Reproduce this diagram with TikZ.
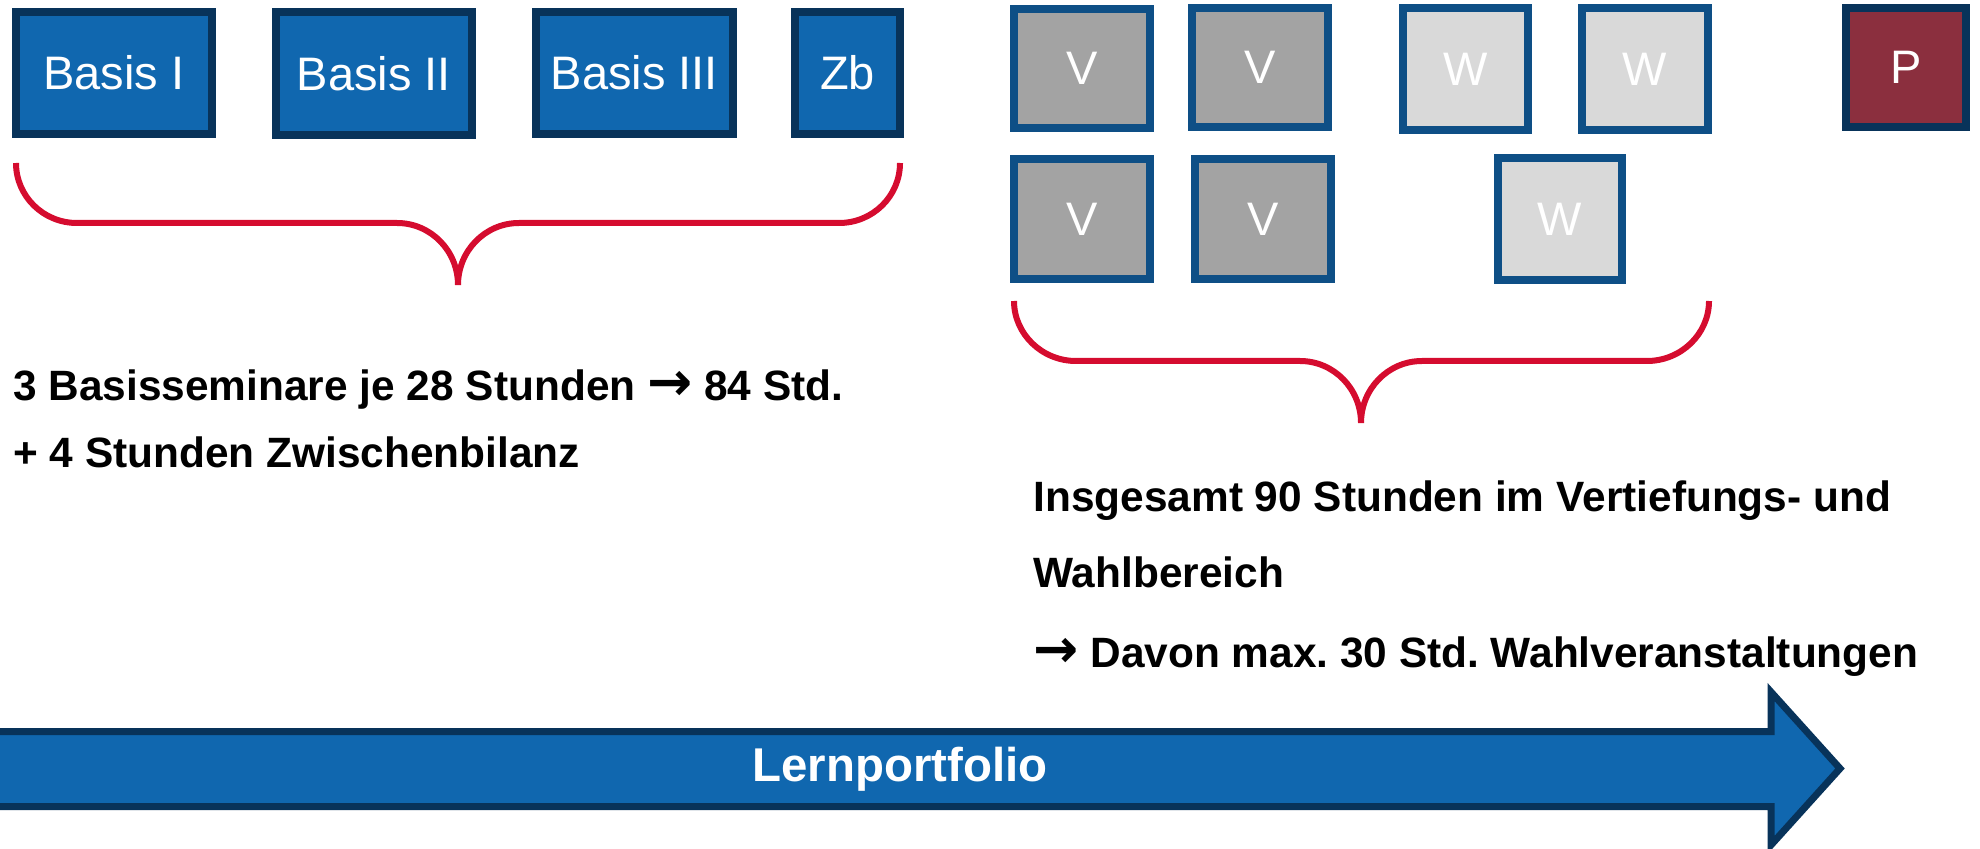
\documentclass[tikz,border=0pt]{standalone}
\usepackage{fontspec}
\setmainfont{Liberation Sans}
\newfontfamily\arrowfont{DejaVu Sans}
\definecolor{boxblue}{RGB}{16,103,175}
\definecolor{darkblue}{RGB}{8,51,90}
\definecolor{midblue}{RGB}{14,79,134}
\definecolor{vgrey}{RGB}{163,163,163}
\definecolor{wgrey}{RGB}{217,217,217}
\definecolor{pred}{RGB}{139,47,62}
\definecolor{bracered}{RGB}{213,12,47}
\tikzset{
  boxbase/.style={draw, line width=4pt, inner sep=0pt, text=white,
    font=\fontsize{23.5}{28}\selectfont},
  basisbox/.style={boxbase, draw=darkblue, fill=boxblue},
  vbox/.style={boxbase, draw=midblue, fill=vgrey},
  wbox/.style={boxbase, draw=midblue, fill=wgrey},
  pbox/.style={boxbase, draw=darkblue, fill=pred},
  bracepath/.style={draw=bracered, line width=3pt},
  infotext/.style={anchor=base west, inner sep=0pt, font=\fontsize{21.2}{25}\selectfont\bfseries\frenchspacing}
}
\newcommand{\rarr}{{\fontsize{27}{25}\arrowfont\bfseries →}}
\begin{document}
\begin{tikzpicture}[x=0.5pt,y=-0.5pt]
\useasboundingbox (0,0) rectangle (1980,849);
\clip (0,0) rectangle (1980,849);
% top-left boxes
\node[basisbox, minimum width=98pt, minimum height=61pt] (b1) at (114,73) {Basis I};
\node[basisbox, minimum width=98pt, minimum height=61.5pt] (b2) at (374,73.5) {Basis II};
\node[basisbox, minimum width=98.5pt, minimum height=61pt] (b3) at (634.5,73) {Basis III};
\node[basisbox, minimum width=52.5pt, minimum height=61pt] (zb) at (847.5,73) {Zb};
% right boxes
\node[vbox, minimum width=68pt, minimum height=59.5pt] (v1) at (1082,68.5) {V};
\node[vbox, minimum width=68pt, minimum height=59.5pt] (v2) at (1260,67.5) {V};
\node[wbox, minimum width=62.5pt, minimum height=61pt] (w1) at (1465.5,69) {W};
\node[wbox, minimum width=63pt, minimum height=61pt] (w2) at (1645,69) {W};
\node[pbox, minimum width=60pt, minimum height=59.5pt] (p) at (1906,67.5) {P};
\node[vbox, minimum width=68pt, minimum height=60pt] (v3) at (1082,219) {V};
\node[vbox, minimum width=68pt, minimum height=60pt] (v4) at (1263,219) {V};
\node[wbox, minimum width=62pt, minimum height=61pt] (w3) at (1560,219) {W};
% brace 1
\draw[bracepath] (16,163) .. controls (16,196) and (43,223) .. (77,223)
  -- (397,223) .. controls (431,223) and (458,251) .. (458,285)
  .. controls (458,251) and (485,223) .. (519,223)
  -- (839,223) .. controls (873,223) and (900,196) .. (900,163);
% brace 2
\draw[bracepath] (1014,301) .. controls (1014,334) and (1042,361) .. (1076,361)
  -- (1300,361) .. controls (1334,361) and (1361,389) .. (1361,423)
  .. controls (1361,389) and (1388,361) .. (1422,361)
  -- (1647,361) .. controls (1681,361) and (1709,334) .. (1709,301);
% texts
\node[infotext] (t1) at (13,401) {3 Basisseminare je 28 Stunden \rarr{} 84 Std.};
\node[infotext] (t2) at (13,468) {+ 4 Stunden Zwischenbilanz};
\node[infotext] (t3) at (1033,512) {Insgesamt 90 Stunden im Vertiefungs- und};
\node[infotext] (t4) at (1033,588) {Wahlbereich};
\node[infotext] (t5) at (1033,667) {\rarr{} Davon max. 30 Std. Wahlveranstaltungen};
% bottom arrow
\draw[draw=darkblue, fill=boxblue, line width=3.5pt, line join=miter]
  (-20,731.5) -- (1771,731.5) -- (1771,692) -- (1840,768.5) -- (1771,845)
  -- (1771,806.5) -- (-20,806.5) -- cycle;
\node[font=\fontsize{23.7}{28}\selectfont\bfseries, text=white, inner sep=0pt] (lp) at (900,769) {Lernportfolio};
\end{tikzpicture}
\end{document}
